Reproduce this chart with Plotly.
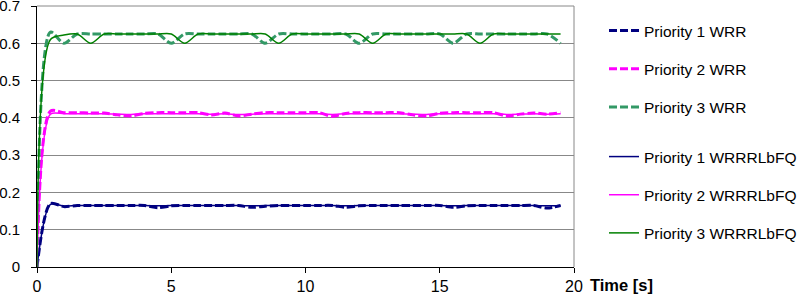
import plotly.graph_objects as go

# Time axis (seconds)
time_s = [i * 0.5 for i in range(40)]

prio1_wrr = [0, 0.170, 0.162, 0.165, 0.165, 0.165, 0.165, 0.165, 0.165, 0.159,
             0.164, 0.165, 0.165, 0.165, 0.165, 0.165, 0.160, 0.163, 0.165, 0.165,
             0.165, 0.165, 0.165, 0.160, 0.164, 0.165, 0.165, 0.165, 0.165, 0.165,
             0.165, 0.160, 0.164, 0.165, 0.165, 0.165, 0.165, 0.165, 0.158, 0.165]
prio2_wrr = [0, 0.418, 0.414, 0.414, 0.413, 0.413, 0.408, 0.405, 0.412, 0.414,
             0.414, 0.414, 0.414, 0.408, 0.413, 0.405, 0.410, 0.414, 0.414, 0.414,
             0.414, 0.414, 0.404, 0.412, 0.414, 0.414, 0.414, 0.414, 0.408, 0.405,
             0.412, 0.414, 0.414, 0.414, 0.414, 0.405, 0.410, 0.413, 0.410, 0.414]
prio3_wrr = [0, 0.630, 0.600, 0.625, 0.625, 0.625, 0.625, 0.625, 0.625, 0.625,
             0.600, 0.625, 0.625, 0.625, 0.625, 0.625, 0.625, 0.600, 0.625, 0.625,
             0.625, 0.625, 0.625, 0.625, 0.600, 0.625, 0.625, 0.625, 0.625, 0.625,
             0.625, 0.600, 0.625, 0.625, 0.625, 0.625, 0.625, 0.625, 0.625, 0.600]
prio1_lbfq = [0, 0.168, 0.163, 0.165, 0.165, 0.165, 0.165, 0.165, 0.165, 0.164,
              0.165, 0.165, 0.165, 0.165, 0.165, 0.165, 0.164, 0.165, 0.165, 0.165,
              0.165, 0.165, 0.165, 0.164, 0.165, 0.165, 0.165, 0.165, 0.165, 0.165,
              0.165, 0.164, 0.165, 0.165, 0.165, 0.165, 0.165, 0.165, 0.164, 0.165]
prio2_lbfq = [0, 0.410, 0.411, 0.411, 0.411, 0.411, 0.410, 0.409, 0.411, 0.411,
              0.411, 0.411, 0.411, 0.410, 0.411, 0.409, 0.410, 0.411, 0.411, 0.411,
              0.411, 0.411, 0.409, 0.411, 0.411, 0.411, 0.411, 0.411, 0.410, 0.409,
              0.411, 0.411, 0.411, 0.411, 0.411, 0.409, 0.410, 0.411, 0.410, 0.411]
prio3_lbfq = [0, 0.610, 0.622, 0.625, 0.600, 0.625, 0.625, 0.625, 0.625, 0.625,
              0.625, 0.600, 0.625, 0.625, 0.625, 0.625, 0.625, 0.625, 0.600, 0.625,
              0.625, 0.625, 0.625, 0.625, 0.625, 0.600, 0.625, 0.625, 0.625, 0.625,
              0.625, 0.625, 0.625, 0.600, 0.625, 0.625, 0.625, 0.625, 0.625, 0.625]

x_ticks = [0, 5, 10, 15, 20]
y_ticks = [0, 0.1, 0.2, 0.3, 0.4, 0.5, 0.6, 0.7]
y_tick_text = ["0", "0.1", "0.2", "0.3", "0.4", "0.5", "0.6", "0.7"]

FONT = "Arial, Liberation Sans, sans-serif"
DASH = "8px,3px"

series = [
    ("Priority 1 WRR", prio1_wrr, "#000080", 3, DASH, "legend"),
    ("Priority 2 WRR", prio2_wrr, "#FF00FF", 3, DASH, "legend"),
    ("Priority 3 WRR", prio3_wrr, "#339966", 3, DASH, "legend"),
    ("Priority 1 WRRRLbFQ", prio1_lbfq, "#000080", 1.5, "solid", "legend2"),
    ("Priority 2 WRRRLbFQ", prio2_lbfq, "#FF00FF", 1.5, "solid", "legend2"),
    ("Priority 3 WRRRLbFQ", prio3_lbfq, "#008000", 1.5, "solid", "legend2"),
]

fig = go.Figure()
for i, (name, vals, color, width, dash, leg) in enumerate(series):
    fig.add_trace(go.Scatter(
        x=time_s, y=vals, name=name, mode="lines",
        line=dict(color=color, width=width, dash=dash, shape="spline", smoothing=0.8),
        legend=leg, legendgroup="g%d" % i,
    ))

W, H = 802, 294
L, R, T, B = 37, 228, 6, 27
pw, ph = W - L - R, H - T - B

def px_x(p):
    return (p - L) / pw

def px_y(p):
    return (H - B - p) / ph

LEG_FONT = 15.5

fig.update_layout(
    width=W, height=H,
    margin=dict(l=L, r=R, t=T, b=B, autoexpand=False),
    paper_bgcolor="white", plot_bgcolor="white",
    font=dict(family=FONT, size=16, color="black"),
    showlegend=True,
    legend=dict(x=px_x(604), y=px_y(14), xanchor="left", yanchor="top",
                tracegroupgap=15, font=dict(size=LEG_FONT), bgcolor="rgba(0,0,0,0)"),
    legend2=dict(x=px_x(604), y=px_y(140), xanchor="left", yanchor="top",
                 tracegroupgap=15, font=dict(size=LEG_FONT), bgcolor="rgba(0,0,0,0)"),
    xaxis=dict(range=[0, 20], tickvals=x_ticks, ticks="outside", ticklen=5,
               tickcolor="black", showline=True, linecolor="black", linewidth=1,
               showgrid=False, zeroline=False, tickfont=dict(size=16),
               automargin=False, ticklabeloverflow="allow"),
    yaxis=dict(range=[0, 0.70001], tickvals=y_ticks, ticktext=y_tick_text,
               ticks="outside", ticklen=5, tickcolor="black", showline=True,
               linecolor="black", linewidth=1, showgrid=True, gridcolor="#888888",
               gridwidth=1, zeroline=False, tickfont=dict(size=15),
               ticklabelstandoff=8, automargin=False, ticklabeloverflow="allow"),
    shapes=[
        dict(type="line", xref="paper", yref="paper", x0=1, x1=1, y0=0, y1=1,
             line=dict(color="#888888", width=1)),
        dict(type="line", xref="paper", yref="paper", x0=0, x1=1, y0=1, y1=1,
             line=dict(color="#888888", width=1)),
    ],
    annotations=[
        dict(text="<b>Time [s]</b>", xref="paper", yref="paper",
             x=px_x(588), y=px_y(285), xanchor="left", yanchor="middle",
             showarrow=False, font=dict(size=16.5, family=FONT)),
    ],
)

fig.write_html(
    "out.html",
    config={"displayModeBar": False},
    post_script="document.body.style.margin='0px';document.body.style.overflow='hidden';",
)
